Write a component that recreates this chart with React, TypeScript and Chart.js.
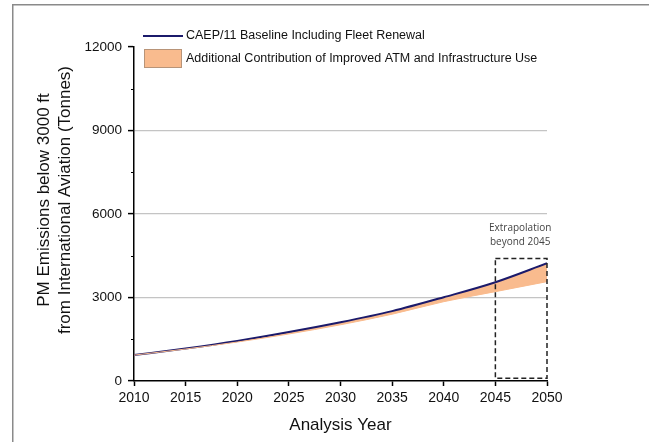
import React, { useEffect, useRef } from 'react';
import { Chart, registerables } from 'chart.js';

Chart.register(...registerables);

const years = [2010, 2015, 2020, 2025, 2030, 2035, 2040, 2045, 2050];
const baseline = [930, 1170, 1440, 1760, 2110, 2510, 3010, 3550, 4230];
const improved = [930, 1150, 1400, 1690, 2020, 2400, 2850, 3210, 3570];
const yTicks = [0, 3000, 6000, 9000, 12000];
const yMinorTicks = [1500, 4500, 7500, 10500];
const xTicks = [2010, 2015, 2020, 2025, 2030, 2035, 2040, 2045, 2050];
const seriesLabels = [
  'CAEP/11 Baseline Including Fleet Renewal',
  'Additional Contribution of Improved ATM and Infrastructure Use',
];
const xTitle = 'Analysis Year';
const yTitle = ['PM Emissions below 3000 ft', 'from International Aviation (Tonnes)'];
const extrapYears = [2045, 2050];
const extrapRange = [100, 4400];
const extrapLabel = ['Extrapolation', 'beyond 2045'];

const NAVY = '#1b1a6b';
const ORANGE = '#f9bb8e';
const FONT = "'Liberation Sans', Arial, sans-serif";

const decorPlugin = {
  id: 'decor',
  beforeDraw(chart: any) {
    const ctx = chart.ctx;
    ctx.save();
    ctx.strokeStyle = '#8a8a8a';
    ctx.lineWidth = 1.5;
    ctx.beginPath();
    ctx.moveTo(12.75, 442);
    ctx.lineTo(12.75, 4.75);
    ctx.lineTo(649, 4.75);
    ctx.stroke();
    ctx.restore();
  },
  afterDraw(chart: any) {
    const ctx = chart.ctx;
    const xs = chart.scales.x;
    const ys = chart.scales.y;
    const ca = chart.chartArea;
    ctx.save();

    // minor ticks on y axis
    ctx.strokeStyle = '#000';
    ctx.lineWidth = 1;
    yMinorTicks.forEach((v) => {
      const y = Math.round(ys.getPixelForValue(v)) + 0.5;
      ctx.beginPath();
      ctx.moveTo(ca.left - 3, y);
      ctx.lineTo(ca.left, y);
      ctx.stroke();
    });

    // dashed extrapolation box
    const bx1 = xs.getPixelForValue(extrapYears[0]);
    const bx2 = xs.getPixelForValue(extrapYears[1]);
    const by1 = ys.getPixelForValue(extrapRange[1]);
    const by2 = ys.getPixelForValue(extrapRange[0]);
    ctx.strokeStyle = '#222';
    ctx.lineWidth = 1.5;
    ctx.setLineDash([5, 3]);
    ctx.strokeRect(bx1, by1, bx2 - bx1, by2 - by1);
    ctx.setLineDash([]);

    // annotation text
    ctx.fillStyle = '#444';
    ctx.font = "10px 'Open Sans', sans-serif";
    ctx.textAlign = 'center';
    ctx.textBaseline = 'middle';
    const cx = (bx1 + bx2) / 2 - 1;
    ctx.fillText(extrapLabel[0], cx, by1 - 30);
    ctx.fillText(extrapLabel[1], cx, by1 - 16);

    // legend
    const lx = ca.left + 9;
    ctx.strokeStyle = NAVY;
    ctx.lineWidth = 2;
    ctx.beginPath();
    ctx.moveTo(lx, 36);
    ctx.lineTo(lx + 40, 36);
    ctx.stroke();
    ctx.fillStyle = ORANGE;
    ctx.fillRect(lx + 1, 49, 38, 19);
    ctx.strokeStyle = '#b89478';
    ctx.lineWidth = 1;
    ctx.strokeRect(lx + 1.5, 49.5, 37, 18);
    ctx.fillStyle = '#111';
    ctx.font = `12.5px ${FONT}`;
    ctx.textAlign = 'left';
    ctx.textBaseline = 'middle';
    ctx.fillText(seriesLabels[0], lx + 43, 36);
    ctx.fillText(seriesLabels[1], lx + 43, 59);

    // axis titles
    ctx.fillStyle = '#111';
    ctx.font = `17px ${FONT}`;
    ctx.textAlign = 'center';
    ctx.textBaseline = 'middle';
    ctx.fillText(xTitle, (ca.left + ca.right) / 2, 425);
    ctx.save();
    ctx.translate(44, 200);
    ctx.rotate(-Math.PI / 2);
    ctx.fillText(yTitle[0], 0, 0);
    ctx.restore();
    ctx.save();
    ctx.translate(65, 200);
    ctx.rotate(-Math.PI / 2);
    ctx.fillText(yTitle[1], 0, 0);
    ctx.restore();

    ctx.restore();
  },
};

export default function App() {
  const ref = useRef<HTMLCanvasElement>(null);
  useEffect(() => {
    if (!ref.current) return;
    const chart = new Chart(ref.current, {
      type: 'line',
      data: {
        datasets: [
          {
            label: 'improved',
            data: years.map((x, i) => ({ x, y: improved[i] })),
            borderColor: ORANGE,
            borderWidth: 1,
            pointRadius: 0,
            fill: false,
            cubicInterpolationMode: 'monotone',
          },
          {
            label: 'baseline',
            data: years.map((x, i) => ({ x, y: baseline[i] })),
            borderColor: NAVY,
            borderWidth: 2,
            backgroundColor: ORANGE,
            pointRadius: 0,
            fill: '-1',
            cubicInterpolationMode: 'monotone',
          },
        ],
      },
      options: {
        animation: false,
        responsive: false,
        maintainAspectRatio: false,
        layout: { padding: { top: 47, right: 102, bottom: 0, left: 0 } },
        plugins: { legend: { display: false }, tooltip: { enabled: false }, title: { display: false } },
        scales: {
          x: {
            type: 'linear',
            min: 2010,
            max: 2050,
            afterBuildTicks: (s: any) => {
              s.ticks = xTicks.map((v) => ({ value: v }));
            },
            afterFit: (s: any) => {
              s.height = 61;
              s.paddingLeft = 0;
              s.paddingRight = 0;
            },
            ticks: {
              callback: (v: any) => String(v),
              font: { family: FONT, size: 14 },
              color: '#111',
              padding: 4,
              maxRotation: 0,
            },
            grid: { drawOnChartArea: false, drawTicks: true, tickLength: 5, tickColor: '#000', tickWidth: 1.5 },
            border: { display: true, color: '#000', width: 1.5 },
          },
          y: {
            type: 'linear',
            min: 0,
            max: 12000,
            afterBuildTicks: (s: any) => {
              s.ticks = yTicks.map((v) => ({ value: v }));
            },
            afterFit: (s: any) => {
              s.width = 134;
              s.paddingTop = 0;
              s.paddingBottom = 0;
            },
            ticks: {
              callback: (v: any) => String(v),
              font: { family: FONT, size: 13.5 },
              color: '#111',
              padding: 6,
            },
            grid: {
              color: (c: any) =>
                c.tick && (c.tick.value === 0 || c.tick.value === 12000) ? 'rgba(0,0,0,0)' : '#c4c4c4',
              lineWidth: 1.2,
              tickLength: 6,
              tickColor: '#000',
              tickWidth: 1.5,
            },
            border: { display: true, color: '#000', width: 1.5 },
          },
        },
      },
      plugins: [decorPlugin],
    } as any);
    return () => chart.destroy();
  }, []);
  return (
    <div style={{ position: 'absolute', left: 0, top: 0, width: 649, height: 442, background: '#fff' }}>
      <canvas ref={ref} width={649} height={442} style={{ display: 'block' }} />
    </div>
  );
}
